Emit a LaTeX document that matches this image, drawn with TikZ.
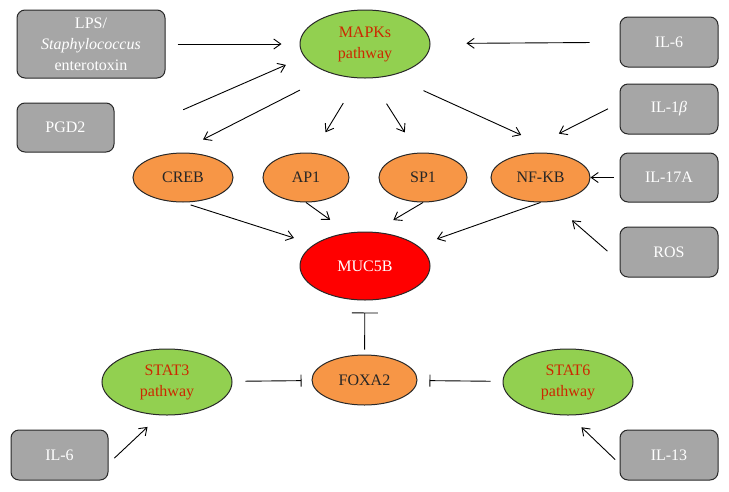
\documentclass[tikz,border=0pt]{standalone}
\usepackage{fontspec}
\setmainfont{Liberation Serif}
\usetikzlibrary{arrows.meta,shapes.geometric}
\definecolor{boxgray}{RGB}{166,166,166}
\definecolor{pathgreen}{RGB}{146,208,80}
\definecolor{tforange}{RGB}{247,150,70}
\definecolor{pathred}{RGB}{204,40,0}
\definecolor{edgedark}{RGB}{40,40,40}

\begin{document}
\begin{tikzpicture}[x=1pt,y=-1pt,font=\fontsize{16}{21}\selectfont,
  stim/.style={draw=edgedark,line width=1pt,fill=boxgray,rounded corners=8pt,text=white,
    minimum width=98pt,minimum height=50pt,inner sep=0pt,align=center},
  sig/.style={ellipse,draw=edgedark,line width=1pt,fill=pathgreen,text=pathred,
    minimum width=130pt,minimum height=68pt,inner sep=0pt,align=center},
  tf/.style={ellipse,draw=edgedark,line width=1pt,fill=tforange,text=black!85,
    minimum height=49pt,inner sep=0pt},
  act/.style={line width=0.9pt,-{Straight Barb[length=7pt,width=10pt]}},
  inh/.style={line width=0.9pt,-{Bar[width=12pt]}}]
\useasboundingbox (0,0) rectangle (729,491);

% stimuli
\node[stim,minimum width=148pt,minimum height=68pt] (lps) at (91,44) {LPS/\\\textit{Staphylococcus}\\enterotoxin};
\node[stim,minimum width=97pt,minimum height=49pt] (pgd) at (65.5,127.5) {PGD2};
\node[stim] (il6a) at (669,42) {IL-6};
\node[stim] (ilb) at (669,109) {IL-1{\itshape β}};
\node[stim,minimum height=49pt] (il17) at (669,177.5) {IL-17A};
\node[stim] (ros) at (669,252) {ROS};
\node[stim,minimum width=97pt] (il6b) at (59.5,455) {IL-6};
\node[stim] (il13) at (669,455) {IL-13};

% pathways
\node[sig] (mapk) at (365,44) {MAPKs\\pathway};
\node[sig,minimum height=66pt] (stat3) at (167,382) {STAT3\\pathway};
\node[sig,minimum height=66pt] (stat6) at (568,382) {STAT6\\pathway};

% transcription factors and target
\node[tf,minimum width=100pt] (creb) at (183,177.5) {CREB};
\node[tf,minimum width=86pt] (ap) at (306,177.5) {AP1};
\node[tf,minimum width=88pt] (sp) at (423,177.5) {SP1};
\node[tf,minimum width=99pt] (nfkb) at (540.5,177.5) {NF-KB};
\node[tf,minimum width=105pt,minimum height=50pt] (foxa) at (364.5,380) {FOXA2};
\node[ellipse,draw=edgedark,line width=1pt,fill=red,text=white,minimum width=130pt,
  minimum height=68pt,inner sep=0pt] (muc) at (365,266) {MUC5B};

% activation
\draw[act,shorten <=12pt,shorten >=18pt] (lps) -- (mapk);
\draw[act,shorten <=30pt,shorten >=36pt] (il6a) -- (mapk);
\draw[act,shorten <=75pt,shorten >=20pt] (pgd.-14) -- (mapk.192);
\draw[act,shorten <=36pt,shorten >=29pt] (mapk.222) -- (creb.103);
\draw[act,shorten <=29pt,shorten >=24pt] (mapk.259) -- (ap.74);
\draw[act,shorten <=30pt,shorten >=24pt] (mapk.279) -- (sp.102);
\draw[act,shorten <=36pt,shorten >=60pt] (mapk.-51) -- (nfkb.north east);
\draw[act,shorten <=13pt,shorten >=50pt] (ilb.173) -- (nfkb.141);
\draw[act,shorten <=6pt] (il17) -- (nfkb);
\draw[act,shorten <=16pt,shorten >=28pt] (ros.191) -- (nfkb.-67);
\draw[act,shorten <=8pt,shorten >=21pt] (creb.south) -- (muc.157);
\draw[act,shorten >=22pt] (ap.south) -- (muc.117);
\draw[act,shorten >=23pt] (sp.south) -- (muc.76);
\draw[act,shorten >=20pt] (nfkb.south) -- (muc.21);
\draw[act,shorten <=8pt,shorten >=17pt] (il6b.-10) -- (stat3.258);
\draw[act,shorten <=6pt,shorten >=17pt] (il13.190) -- (stat6.272);

% inhibition
\draw[inh,-{Bar[width=26pt]},shorten <=5pt,shorten >=12pt] (foxa) -- (muc);
\draw[inh,shorten <=13pt,shorten >=10pt] (stat3) -- (foxa);
\draw[inh,shorten <=12pt,shorten >=12pt] (stat6) -- (foxa);
\end{tikzpicture}
\end{document}
